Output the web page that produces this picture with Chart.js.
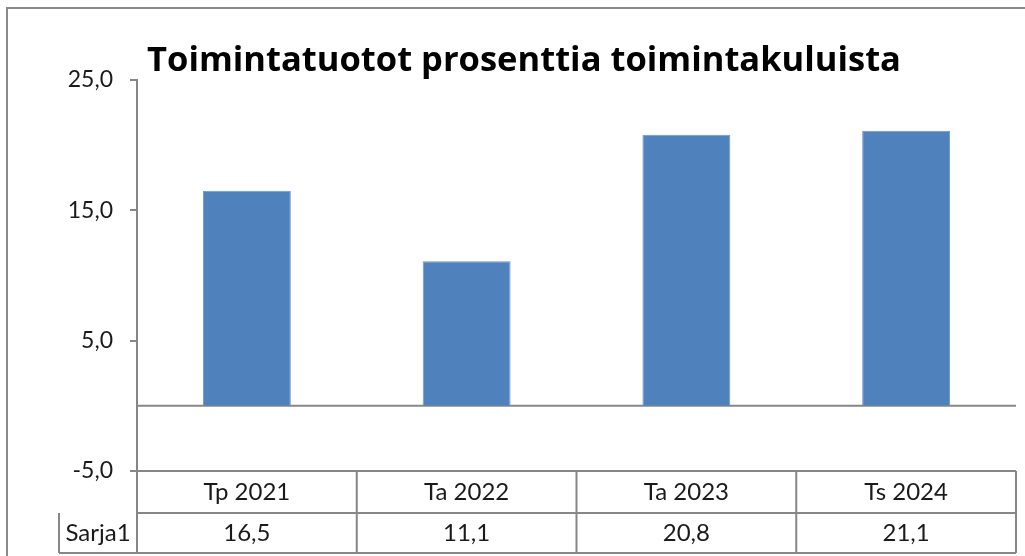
<!DOCTYPE html>
<html>
<head>
<meta charset="utf-8">
<script src="https://cdn.jsdelivr.net/npm/chart.js@4.4.0/dist/chart.umd.min.js"></script>
<style>
  html, body { margin: 0; padding: 0; background: #fff; }
  #wrap { width: 1025px; height: 556px; }
</style>
</head>
<body>
<div id="wrap"><canvas id="chart_tuotot"></canvas></div>
<script>
const otsikko = 'Toimintatuotot prosenttia toimintakuluista';
const kategoriat = ['Tp 2021', 'Ta 2022', 'Ta 2023', 'Ts 2024'];
const sarjaNimi = 'Sarja1';
const arvot = [16.5, 11.1, 20.8, 21.1];
const yTicks = [-5, 5, 15, 25];

const harmaa = '#878787';
const fontti = 'Lato, "Open Sans", sans-serif';

function muotoile(v) {
  return v.toFixed(1).replace('.', ',');
}

// kehys, otsikko, nollaviiva ja taulukko piirretään itse
const taulukko = {
  id: 'taulukko',
  beforeDraw(chart) {
    const ctx = chart.ctx;
    ctx.save();
    ctx.strokeStyle = '#8a8a8a';
    ctx.lineWidth = 2;
    ctx.strokeRect(7, 8, 1200, 1000);
    ctx.restore();
  },
  beforeDatasetsDraw(chart) {
    const ctx = chart.ctx;
    const area = chart.chartArea;
    const y0 = chart.scales.y.getPixelForValue(0);
    ctx.save();
    ctx.strokeStyle = harmaa;
    ctx.lineWidth = 2;
    ctx.beginPath();
    ctx.moveTo(area.left, y0);
    ctx.lineTo(area.right, y0);
    ctx.stroke();
    ctx.restore();
  },
  afterDraw(chart) {
    const ctx = chart.ctx;
    const area = chart.chartArea;
    const x = chart.scales.x;
    const y1 = area.bottom;
    const y2 = y1 + 42;
    const y3 = y2 + 40;
    const leveys = (area.right - area.left) / kategoriat.length;

    ctx.save();
    // otsikko
    ctx.fillStyle = '#000';
    ctx.font = 'bold 34.5px "Open Sans", sans-serif';
    ctx.textAlign = 'center';
    ctx.textBaseline = 'alphabetic';
    ctx.fillText(otsikko, 524, 71);

    ctx.strokeStyle = harmaa;
    ctx.lineWidth = 2;
    ctx.beginPath();
    ctx.moveTo(area.left, y2);
    ctx.lineTo(area.right, y2);
    ctx.moveTo(59, y3);
    ctx.lineTo(area.right, y3);
    ctx.moveTo(59, y2);
    ctx.lineTo(59, y3);
    ctx.moveTo(area.left, y1);
    ctx.lineTo(area.left, y3);
    for (let i = 1; i <= kategoriat.length; i++) {
      const vx = area.left + leveys * i;
      ctx.moveTo(vx, y1);
      ctx.lineTo(vx, y3);
    }
    ctx.stroke();

    ctx.fillStyle = '#1a1a1a';
    ctx.font = '24px ' + fontti;
    ctx.textBaseline = 'middle';
    kategoriat.forEach((k, i) => {
      const cx = x.getPixelForValue(i);
      ctx.fillText(k, cx, (y1 + y2) / 2);
      ctx.fillText(muotoile(arvot[i]), cx, (y2 + y3) / 2);
    });
    ctx.fillText(sarjaNimi, (59 + area.left) / 2, (y2 + y3) / 2);
    ctx.restore();
  }
};

new Chart(document.getElementById('chart_tuotot'), {
  type: 'bar',
  data: {
    labels: kategoriat,
    datasets: [{
      label: sarjaNimi,
      data: arvot,
      backgroundColor: '#4f81bd',
      borderColor: '#6f97c9',
      borderWidth: 1,
      barPercentage: 0.4,
      categoryPercentage: 1
    }]
  },
  options: {
    responsive: true,
    maintainAspectRatio: false,
    animation: false,
    layout: {
      padding: { top: 80, left: 7, right: 9, bottom: 85 }
    },
    scales: {
      x: {
        display: false
      },
      y: {
        min: -5,
        max: 25,
        afterBuildTicks: (scale) => {
          scale.ticks = yTicks.map(v => ({ value: v }));
        },
        afterFit: (scale) => {
          scale.width = 130;
        },
        border: {
          display: true,
          color: harmaa,
          width: 2
        },
        grid: {
          drawOnChartArea: true,
          color: (c) => (c.tick && c.tick.value === -5) ? harmaa : 'rgba(0,0,0,0)',
          lineWidth: 2,
          drawTicks: true,
          tickLength: 7,
          tickColor: harmaa
        },
        ticks: {
          padding: 17,
          color: '#1a1a1a',
          font: { family: fontti, size: 23 },
          callback: (v) => muotoile(v)
        }
      }
    },
    plugins: {
      legend: { display: false },
      tooltip: { enabled: false }
    }
  },
  plugins: [taulukko]
});
</script>
</body>
</html>
